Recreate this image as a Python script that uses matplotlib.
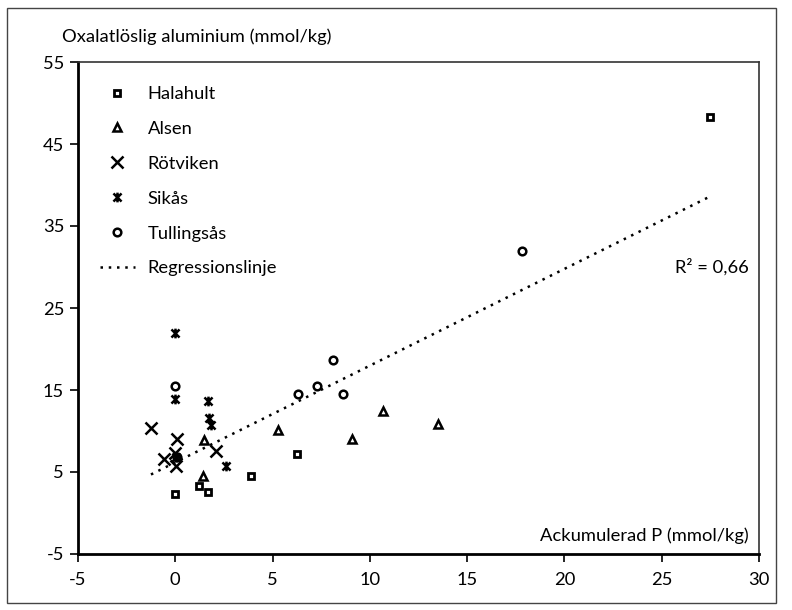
import matplotlib
matplotlib.use("Agg")
import matplotlib.pyplot as plt
from matplotlib.path import Path
from matplotlib.patches import Rectangle
import numpy as np

plt.rcParams["font.family"] = ["Lato", "DejaVu Sans"]
plt.rcParams["axes.unicode_minus"] = False

# Data
halahult_x = [0.0, 1.2, 1.7, 3.9, 6.25, 27.5]
halahult_y = [2.3, 3.3, 2.6, 4.5, 7.2, 48.3]

alsen_x = [1.4, 1.5, 5.3, 9.1, 10.7, 13.5]
alsen_y = [4.5, 8.9, 10.1, 9.0, 12.4, 10.8]

rotviken_x = [-1.25, 0.1, -0.6, 0.05, 2.1, 0.0]
rotviken_y = [10.35, 9.0, 6.6, 5.7, 7.6, 7.3]

sikas_x = [0.0, 0.0, 1.7, 1.75, 1.85, 2.6, 0.05]
sikas_y = [21.9, 13.9, 13.6, 11.6, 10.7, 5.7, 6.8]

tullingsas_x = [0.0, 6.3, 7.3, 8.1, 8.6, 17.8, 0.1]
tullingsas_y = [15.5, 14.5, 15.5, 18.6, 14.5, 31.9, 6.8]

reg_slope = 1.18
reg_intercept = 6.17
r2_text = "R² = 0,66"

x_ticks = [-5, 0, 5, 10, 15, 20, 25, 30]
y_ticks = [-5, 5, 15, 25, 35, 45, 55]

FS = 13.2

# asterisk marker: X with a vertical bar
ast = Path([(-1, -1), (1, 1), (-1, 1), (1, -1), (0, -1.2), (0, 1.2)],
           [Path.MOVETO, Path.LINETO, Path.MOVETO, Path.LINETO, Path.MOVETO, Path.LINETO])

fig = plt.figure(figsize=(7.92, 6.10), dpi=100)
ax = fig.add_axes([78 / 792, 1 - 554 / 610, (759 - 78) / 792, (554 - 62) / 610])

mk = dict(linestyle="none", color="black", markerfacecolor="none", markeredgecolor="black")
ax.plot(halahult_x, halahult_y, marker="s", markersize=5, markeredgewidth=2, label="Halahult", **mk)
ax.plot(alsen_x, alsen_y, marker="^", markersize=6.3, markeredgewidth=1.8, label="Alsen", **mk)
ax.plot(rotviken_x, rotviken_y, marker="x", markersize=8, markeredgewidth=1.8, label="Rötviken", **mk)
ax.plot(sikas_x, sikas_y, marker=ast, markersize=7, markeredgewidth=1.8, label="Sikås", **mk)
ax.plot(tullingsas_x, tullingsas_y, marker="o", markersize=5.5, markeredgewidth=1.8, label="Tullingsås", **mk)

all_x = np.array(halahult_x + alsen_x + rotviken_x + sikas_x + tullingsas_x)
xr = np.array([all_x.min(), all_x.max()])
ax.plot(xr, reg_slope * xr + reg_intercept, color="black", linewidth=1.8,
        linestyle=(0, (1, 2.3)), label="Regressionslinje")

ax.set_xlim(-5, 30)
ax.set_ylim(-5, 55)
ax.set_xticks(x_ticks)
ax.set_yticks(y_ticks)
ax.tick_params(axis="both", direction="out", length=6, width=1.2, labelsize=FS, colors="black")
ax.tick_params(axis="x", pad=7)
ax.tick_params(axis="y", pad=4)
for s in ["left", "bottom"]:
    ax.spines[s].set_linewidth(2)
    ax.spines[s].set_color("black")
for s in ["top", "right"]:
    ax.spines[s].set_linewidth(1.2)
    ax.spines[s].set_color("#333333")

ax.text(0.985, 0.038, "Ackumulerad P (mmol/kg)", transform=ax.transAxes,
        ha="right", va="center", fontsize=FS)
ax.text(0.985, 0.583, r2_text, transform=ax.transAxes, ha="right", va="center", fontsize=FS)
fig.text(62 / 792, 1 - 37 / 610, "Oxalatlöslig aluminium (mmol/kg)", ha="left", va="center", fontsize=FS)

ax.legend(loc="upper left", bbox_to_anchor=(100 / 792, 1 - 86 / 610), bbox_transform=fig.transFigure,
          frameon=False, fontsize=FS, borderpad=0, borderaxespad=0, handlelength=1.9,
          handletextpad=0.7, labelspacing=1.03, numpoints=1)

fig.patches.append(Rectangle((7 / 792, 1 - 603 / 610), (776 - 7) / 792, (603 - 8) / 610,
                             transform=fig.transFigure, fill=False, edgecolor="#444444", linewidth=1))

fig.savefig("out.png", dpi=100, facecolor="white")
